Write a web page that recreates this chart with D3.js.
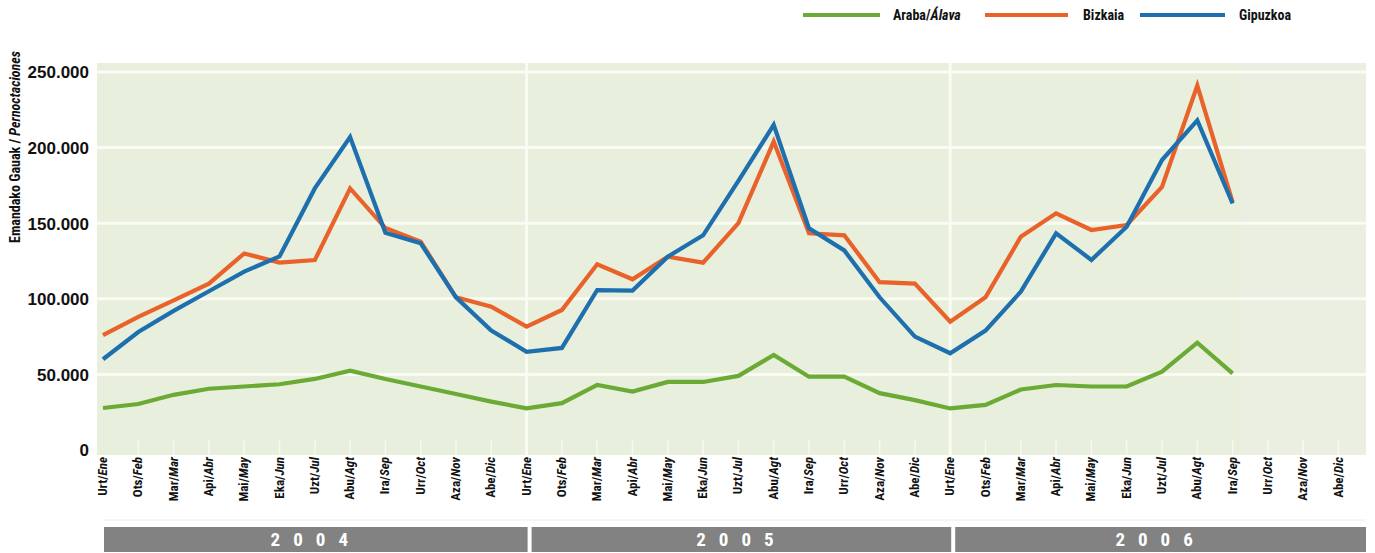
<!DOCTYPE html>
<html><head><meta charset="utf-8">
<script src="https://cdn.jsdelivr.net/npm/d3@7"></script>
<style>
body{margin:0;background:#fff;}
text{font-family:"Liberation Sans Narrow","Arial Narrow","Roboto Condensed","DejaVu Sans Condensed",sans-serif;font-weight:bold;}
</style></head>
<body><svg id="c" width="1375" height="553"></svg>
<script>
const monthsEu = ["Urt","Ots","Mar","Api","Mai","Eka","Uzt","Abu","Ira","Urr","Aza","Abe"];
const monthsEs = ["Ene","Feb","Mar","Abr","May","Jun","Jul","Agt","Sep","Oct","Nov","Dic"];
const years = ["2004","2005","2006"];
const yTicks = [0,50000,100000,150000,200000,250000];
const araba = [27800,30400,36500,40500,42000,43500,47000,52500,47000,42000,37000,32000,
               27500,31000,43000,38600,45000,45000,49000,62800,48500,48500,37600,33000,
               27500,29800,40000,43000,42000,42000,51800,71000,50700];
const bizkaia = [76000,88000,99000,110000,130000,124000,125600,173000,146800,137800,101000,94800,
                 81600,92600,122800,112900,127900,123900,150000,204000,143300,142000,111000,110000,
                 84900,101000,141000,156500,145500,148800,174000,241000,164000];
const gipuzkoa = [60000,78000,92000,105000,118000,128000,173000,207000,143700,136700,101000,79000,
                  65000,67500,105800,105400,127900,142000,178000,215000,146600,132000,101000,75000,
                  64000,79000,104700,143300,125700,147700,191800,218000,163000];
const series = [
  {name:"Araba/", it:"Álava", values:araba, color:"#6aaa35"},
  {name:"Bizkaia", it:"", values:bizkaia, color:"#e8622a"},
  {name:"Gipuzkoa", it:"", values:gipuzkoa, color:"#1e6fae"}
];

const svg = d3.select("#c");
const nMonths = 36;
const x = d3.scaleLinear().domain([0, nMonths-1]).range([103, 103+35*35.3]);
const y = d3.scaleLinear().domain([0,250000]).range([450,72]);
const plotL = 97, plotR = 1366, plotT = 63, plotB = 455;

// background
svg.append("rect").attr("x",plotL).attr("y",plotT).attr("width",plotR-plotL).attr("height",plotB-plotT).attr("fill","#e8efdc");
svg.append("rect").attr("x",x(32)+8).attr("y",plotT).attr("width",plotR-x(32)-8).attr("height",plotB-plotT).attr("fill","#ebefe2");

// horizontal grid
svg.append("g").selectAll("line").data(yTicks.filter(d=>d>0)).join("line")
  .attr("x1",plotL).attr("x2",plotR).attr("y1",d=>y(d)).attr("y2",d=>y(d))
  .attr("stroke","#fafbf3").attr("stroke-width",3);
// month ticks
svg.append("g").selectAll("line").data(d3.range(1,nMonths)).join("line")
  .attr("x1",d=>x(d)).attr("x2",d=>x(d)).attr("y1",y(0)-10).attr("y2",plotB)
  .attr("stroke","#f7f9f0").attr("stroke-width",1.5);
// year separators
svg.append("g").selectAll("line").data([12,24]).join("line")
  .attr("x1",d=>x(d)).attr("x2",d=>x(d)).attr("y1",plotT).attr("y2",plotB)
  .attr("stroke","#fafbf3").attr("stroke-width",3);

// y axis labels
const yAxis = d3.axisLeft(y).tickValues(yTicks).tickSize(0).tickPadding(0)
  .tickFormat(d=>d3.format(",")(d).replace(/,/g,"."));
const ga = svg.append("g").attr("transform","translate(89,0)").call(yAxis);
ga.select(".domain").remove();
ga.selectAll("text").attr("font-size",17).attr("fill","#111").attr("dy","0.35em")
  .style("font-family",'"Liberation Sans Narrow","Arial Narrow",sans-serif').style("font-weight","bold");

// y title
const yt = svg.append("text").attr("transform","translate(20,147) rotate(-90)")
  .attr("text-anchor","middle").attr("font-size",14).attr("fill","#111");
yt.append("tspan").text("Emandako Gauak / ");
yt.append("tspan").attr("font-style","italic").text("Pernoctaciones");

// x labels
const xl = svg.append("g").selectAll("text").data(d3.range(nMonths)).join("text")
  .attr("transform",d=>`translate(${x(d)+4},457) rotate(-90)`)
  .attr("text-anchor","end").attr("font-size",13).attr("fill","#111");
xl.append("tspan").text(d=>monthsEu[d%12]+"/");
xl.append("tspan").attr("font-style","italic").text(d=>monthsEs[d%12]);

// lines
const line = d3.line().x((d,i)=>x(i)).y(d=>y(d));
svg.append("g").selectAll("path").data(series).join("path")
  .attr("d",d=>line(d.values)).attr("fill","none").attr("stroke",d=>d.color)
  .attr("stroke-width",4.2).attr("stroke-linejoin","miter");

// year bars
const bars = svg.append("g").selectAll("g").data(years).join("g");
const bx0 = (i)=> i===0 ? x(0)+1 : x(12*i)+5;
const bx1 = (i)=> i===2 ? plotR : x(12*(i+1))+1;
svg.append("line").attr("x1",x(0)).attr("x2",plotR).attr("y1",520).attr("y2",520).attr("stroke","#ececec").attr("stroke-width",1);
bars.append("rect").attr("x",(d,i)=>bx0(i)).attr("y",527).attr("width",(d,i)=>bx1(i)-bx0(i)).attr("height",25).attr("fill","#828282");
bars.append("text").attr("x",(d,i)=>(bx0(i)+bx1(i))/2).attr("y",546).attr("text-anchor","middle")
  .attr("font-size",19).attr("fill","#fff").attr("letter-spacing","13px").text(d=>d);

// legend
const lg = [{x0:803,x1:880,tx:893},{x0:985,x1:1068,tx:1083},{x0:1140,x1:1225,tx:1239}];
const leg = svg.append("g").selectAll("g").data(series).join("g");
leg.append("line").attr("x1",(d,i)=>lg[i].x0).attr("x2",(d,i)=>lg[i].x1).attr("y1",15).attr("y2",15)
  .attr("stroke",d=>d.color).attr("stroke-width",4);
const lt = leg.append("text").attr("x",(d,i)=>lg[i].tx).attr("y",20).attr("font-size",14).attr("fill","#111");
lt.append("tspan").text(d=>d.name);
lt.append("tspan").attr("font-style","italic").text(d=>d.it);
</script></body></html>
